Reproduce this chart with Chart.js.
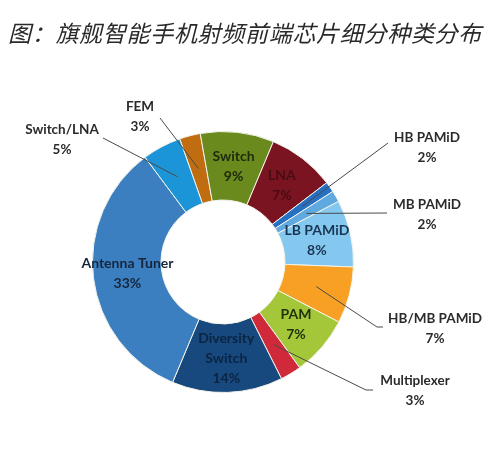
<!DOCTYPE html>
<html><head><meta charset="utf-8">
<script src="https://cdn.jsdelivr.net/npm/chart.js@4"></script>
<style>html,body{margin:0;padding:0;background:#fff;}canvas{display:block}</style>
</head><body>
<canvas id="c" width="500" height="454"></canvas>
<script>
// ---- data ----
const chartTitle = '图：旗舰智能手机射频前端芯片细分种类分布';
const categories = ['FEM','Switch','LNA','HB PAMiD','MB PAMiD','LB PAMiD','HB/MB PAMiD','PAM','Multiplexer','Diversity Switch','Antenna Tuner','Switch/LNA'];
const shares = [2.6, 9.1, 8.3, 1.3, 1.4, 8.3, 7.0, 7.4, 2.6, 13.7, 33.5, 4.8];
const pctLabels = ['3%','9%','7%','2%','2%','8%','7%','7%','3%','14%','33%','5%'];

// ---- style ----
const colors = ['#c06d12','#6b8a1e','#7a1420','#2670c4','#5fa8e0','#84c8f0','#f7a023','#a4c639','#d0293a','#17497e','#3b7fc0','#1b95d8'];
const insideText = {1:'#1e2a0c',2:'#4a0c14',5:'#1a3552',7:'#24320a',9:'#0c2442',10:'#15263c'};
const insideWrap = {9:['Diversity','Switch']};
// outside labels: text centre and leader end, offsets from doughnut centre (px)
const outside = {
  0:{tx:-83,ty:-145,ex:-63,ey:-144},
  11:{tx:-161,ty:-122,ex:-120,ey:-124},
  3:{tx:204,ty:-114,ex:165,ey:-119},
  4:{tx:204,ty:-47,ex:164,ey:-49},
  6:{tx:212,ty:67,bx:154,by:65,ex:160,ey:65},
  8:{tx:192,ty:129,bx:143,by:128,ex:150,ey:128}
};
const FONT = 'Lato, "Open Sans", sans-serif';

const titlePlugin = {
  id:'titleDraw',
  beforeDraw(chart){
    const ctx = chart.ctx;
    ctx.save();
    ctx.fillStyle = '#fff';
    ctx.fillRect(0,0,chart.width,chart.height);
    ctx.font = 'italic 23px "Noto Sans CJK SC", sans-serif';
    ctx.fillStyle = '#2a2a2a';
    ctx.textBaseline = 'middle';
    ctx.textAlign = 'left';
    try { ctx.letterSpacing = '0.7px'; } catch(e){}
    ctx.fillText(chartTitle, 8, 33);
    ctx.restore();
  }
};

const labelPlugin = {
  id:'sliceLabels',
  afterDatasetsDraw(chart){
    const ctx = chart.ctx;
    const meta = chart.getDatasetMeta(0);
    meta.data.forEach((arc,i)=>{
      const p = arc.getProps(['x','y','startAngle','endAngle','innerRadius','outerRadius'], true);
      const lh = 20;
      ctx.save();
      ctx.textAlign = 'center';
      ctx.textBaseline = 'middle';
      if (outside[i]) {
        const o = outside[i];
        const mid = (p.startAngle + p.endAngle)/2;
        const r = p.outerRadius*0.74;
        const sx = p.x + Math.cos(mid)*r, sy = p.y + Math.sin(mid)*r;
        ctx.strokeStyle = '#4a4a4a';
        ctx.lineWidth = 1;
        ctx.beginPath();
        ctx.moveTo(sx, sy);
        if (o.bx !== undefined) ctx.lineTo(p.x+o.bx, p.y+o.by);
        ctx.lineTo(p.x+o.ex, p.y+o.ey);
        ctx.stroke();
        ctx.font = 'bold 13.5px ' + FONT;
        ctx.fillStyle = '#2b2b2b';
        ctx.fillText(categories[i], p.x+o.tx, p.y+o.ty - lh/2);
        ctx.fillText(pctLabels[i], p.x+o.tx, p.y+o.ty + lh/2);
      } else {
        const c = arc.getCenterPoint(true);
        const lines = (insideWrap[i] || [categories[i]]).concat([pctLabels[i]]);
        ctx.font = 'bold 14px ' + FONT;
        ctx.fillStyle = insideText[i] || '#222';
        const y0 = c.y - (lines.length-1)*lh/2;
        lines.forEach((t,k)=>ctx.fillText(t, c.x, y0 + k*lh));
      }
      ctx.restore();
    });
  }
};

new Chart(document.getElementById('c'), {
  type:'doughnut',
  data:{ labels:categories, datasets:[{ data:shares, backgroundColor:colors, borderColor:'#f4f4ea', borderWidth:1 }] },
  options:{
    responsive:false,
    animation:false,
    rotation:-19.4,
    cutout:'47.5%',
    layout:{ padding:{ left:92, right:146, top:131, bottom:61 } },
    plugins:{ legend:{display:false}, tooltip:{enabled:false}, title:{display:false} }
  },
  plugins:[titlePlugin, labelPlugin]
});
</script>
</body></html>
